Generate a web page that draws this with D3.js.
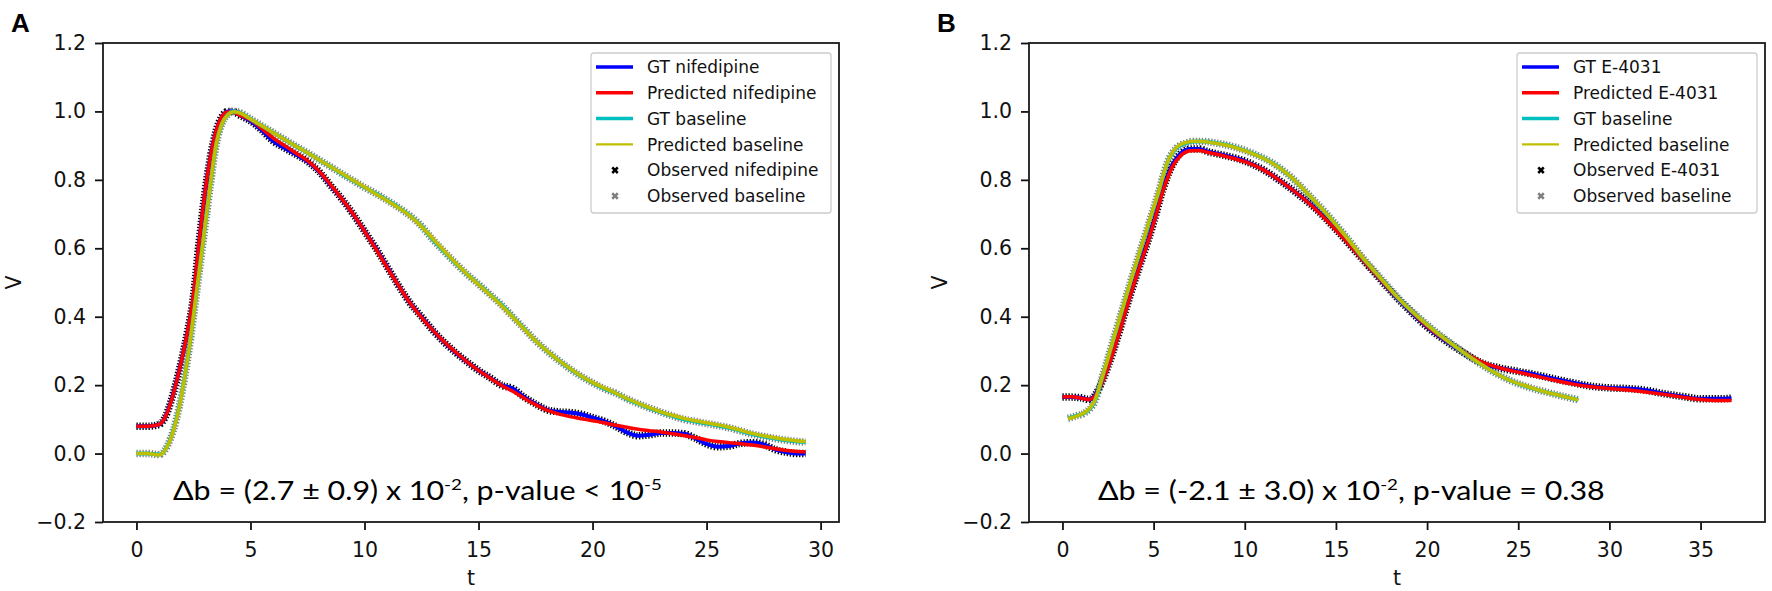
<!DOCTYPE html>
<html>
<head>
<meta charset="utf-8">
<script src="https://cdn.jsdelivr.net/npm/d3@7"></script>
<style>
  body { margin: 0; background: #fff; }
  svg { display: block; }
</style>
</head>
<body>
<div id="plot"></div>
<script>
// ---------- data ----------
// panel A : nifedipine vs baseline
const tA = [0, 0.5, 1,
    1.25, 1.5, 1.75, 2, 2.25, 2.5, 2.75, 3, 3.25, 3.5, 3.75, 4, 4.25, 4.5,
    5, 5.5, 6, 6.5, 7, 7.5, 8, 8.5, 9, 9.5,
    10, 10.5, 11, 11.5, 12, 12.5, 13, 13.5, 14, 14.5,
    15, 15.5, 16, 16.5, 17, 17.5, 18, 18.5, 19, 19.5,
    20, 20.5, 21, 21.5, 22, 22.5, 23, 23.5, 24, 24.5,
    25, 25.5, 26, 26.5, 27, 27.5, 28, 28.5, 29, 29.34];
const nifObsA = [0.08, 0.08, 0.085,
    0.105, 0.15, 0.21, 0.28, 0.36, 0.46, 0.62, 0.76, 0.87, 0.945, 0.985, 1.0, 1.0, 0.99,
    0.972, 0.945, 0.913, 0.893, 0.874, 0.854, 0.825, 0.785, 0.745, 0.70,
    0.65, 0.60, 0.545, 0.49, 0.44, 0.40, 0.36, 0.325, 0.295, 0.268,
    0.243, 0.222, 0.20, 0.19, 0.165, 0.145, 0.128, 0.122, 0.12, 0.115,
    0.105, 0.095, 0.08, 0.062, 0.052, 0.055, 0.06, 0.06, 0.058, 0.045,
    0.028, 0.02, 0.022, 0.03, 0.032, 0.027, 0.012, 0.004, 0.0, 0.0];
const nifPredA = [0.08, 0.08, 0.085,
    0.105, 0.148, 0.208, 0.28, 0.36, 0.465, 0.62, 0.76, 0.87, 0.945, 0.985, 0.998, 0.998, 0.99,
    0.975, 0.95, 0.922, 0.90, 0.878, 0.856, 0.826, 0.787, 0.745, 0.70,
    0.65, 0.598, 0.543, 0.49, 0.44, 0.398, 0.36, 0.326, 0.296, 0.268,
    0.243, 0.221, 0.20, 0.182, 0.162, 0.143, 0.127, 0.116, 0.108, 0.102,
    0.096, 0.09, 0.083, 0.077, 0.071, 0.067, 0.063, 0.058, 0.053, 0.047,
    0.04, 0.035, 0.032, 0.029, 0.025, 0.02, 0.014, 0.009, 0.006, 0.005];
const baseObsA = [0.0, 0.0, -0.003,
    0.01, 0.045, 0.10, 0.18, 0.28, 0.40, 0.53, 0.66, 0.79, 0.905, 0.965, 0.99, 1.0, 0.997,
    0.978, 0.958, 0.938, 0.918, 0.898, 0.879, 0.859, 0.839, 0.818, 0.798,
    0.778, 0.76, 0.74, 0.719, 0.695, 0.665, 0.625, 0.59, 0.556, 0.524,
    0.495, 0.465, 0.435, 0.40, 0.365, 0.33, 0.30, 0.273, 0.248, 0.226,
    0.207, 0.19, 0.177, 0.16, 0.146, 0.133, 0.121, 0.11, 0.10, 0.094,
    0.088, 0.082, 0.075, 0.066, 0.057, 0.05, 0.044, 0.039, 0.035, 0.033];
const basePredA = [0.0, 0.0, -0.004,
    0.01, 0.043, 0.098, 0.178, 0.28, 0.40, 0.53, 0.66, 0.79, 0.905, 0.965, 0.99, 0.999, 0.996,
    0.978, 0.958, 0.938, 0.918, 0.898, 0.879, 0.859, 0.839, 0.819, 0.799,
    0.779, 0.759, 0.739, 0.718, 0.694, 0.664, 0.628, 0.592, 0.557, 0.524,
    0.494, 0.464, 0.433, 0.399, 0.364, 0.33, 0.30, 0.273, 0.249, 0.227,
    0.208, 0.192, 0.177, 0.161, 0.147, 0.134, 0.122, 0.112, 0.103, 0.096,
    0.09, 0.084, 0.077, 0.068, 0.059, 0.052, 0.046, 0.041, 0.037, 0.035];

// panel B : E-4031 vs baseline
const tB = [0, 0.5, 1, 1.5, 2, 2.5, 3, 3.5, 4, 4.5,
    5, 5.5, 6, 6.5, 7, 7.5, 8, 9, 10, 11,
    12, 13, 14, 15, 16, 17, 18, 19, 20, 21,
    22, 23, 24, 25, 26, 27, 28, 29, 30, 31,
    32, 33, 34, 35, 36, 36.7];
const e4031ObsB = [0.165, 0.165, 0.163, 0.158, 0.19, 0.255, 0.335, 0.425, 0.51, 0.59,
    0.675, 0.77, 0.84, 0.878, 0.89, 0.89, 0.882, 0.87, 0.855, 0.83,
    0.795, 0.755, 0.71, 0.655, 0.595, 0.535, 0.475, 0.42, 0.37, 0.33,
    0.295, 0.265, 0.25, 0.24, 0.23, 0.218, 0.207, 0.197, 0.192, 0.19,
    0.185, 0.175, 0.167, 0.16, 0.16, 0.162];
const e4031PredB = [0.165, 0.166, 0.162, 0.158, 0.188, 0.252, 0.332, 0.422, 0.508, 0.588,
    0.672, 0.765, 0.835, 0.872, 0.885, 0.886, 0.88, 0.868, 0.853, 0.83,
    0.795, 0.755, 0.708, 0.653, 0.594, 0.534, 0.476, 0.422, 0.372, 0.332,
    0.297, 0.268, 0.25, 0.238, 0.226, 0.214, 0.203, 0.195, 0.19, 0.186,
    0.18, 0.173, 0.165, 0.158, 0.155, 0.155];
const tBaseB = [0.3, 0.75, 1.25, 1.75, 2.25, 2.75, 3.25, 3.75, 4.25, 4.75,
    5.25, 5.75, 6.25, 6.75, 7.25, 7.75, 8.5, 9.5, 10.5, 11.5,
    12.5, 13.5, 14.5, 15.5, 16.5, 17.5, 18.5, 19.5, 20.5, 21.5,
    22.5, 23.5, 24.5, 25.5, 26.5, 27.5, 28.3];
const baseObsB = [0.103, 0.11, 0.12, 0.15, 0.235, 0.325, 0.415, 0.505, 0.59, 0.675,
    0.76, 0.85, 0.893, 0.907, 0.912, 0.912, 0.907, 0.895, 0.876, 0.85,
    0.81, 0.757, 0.70, 0.638, 0.57, 0.51, 0.45, 0.40, 0.355, 0.315,
    0.277, 0.243, 0.215, 0.195, 0.18, 0.167, 0.157];
const basePredB = [0.102, 0.109, 0.121, 0.152, 0.236, 0.326, 0.416, 0.506, 0.592, 0.677,
    0.762, 0.85, 0.895, 0.909, 0.913, 0.912, 0.906, 0.894, 0.875, 0.849,
    0.81, 0.757, 0.70, 0.638, 0.571, 0.51, 0.45, 0.40, 0.355, 0.315,
    0.277, 0.243, 0.215, 0.196, 0.18, 0.167, 0.157];

// ticks and labels
const xTicksA = [0, 5, 10, 15, 20, 25, 30];
const xTicksB = [0, 5, 10, 15, 20, 25, 30, 35];
const yTicks = [-0.2, 0, 0.2, 0.4, 0.6, 0.8, 1.0, 1.2];
const legendA = ["GT nifedipine", "Predicted nifedipine", "GT baseline",
    "Predicted baseline", "Observed nifedipine", "Observed baseline"];
const legendB = ["GT E-4031", "Predicted E-4031", "GT baseline",
    "Predicted baseline", "Observed E-4031", "Observed baseline"];
const noteA = ["\u0394b = (2.7 \u00b1 0.9) x 10", "-2", ", p-value < 10", "-5"];
const noteB = ["\u0394b = (-2.1 \u00b1 3.0) x 10", "-2", ", p-value = 0.38"];

// ---------- drawing ----------
const svg = d3.select("#plot")
    .append("svg")
    .attr("width", 1772)
    .attr("height", 591);

const tickFont = "'DejaVu Sans', sans-serif";
const plotTop = 43, plotBottom = 522;

function drawPanel(p) {
    const x = d3.scaleLinear().domain(p.xDomain).range([p.left, p.right]);
    const y = d3.scaleLinear().domain([-0.2, 1.2]).range([plotBottom, plotTop]);
    const g = svg.append("g");

    const line = d3.line()
        .x(d => x(d[0]))
        .y(d => y(d[1]))
        .curve(d3.curveMonotoneX);

    // observed samples: dense x-markers, drawn as a dotted wide stroke
    g.append("path")
        .datum(d3.zip(p.t, p.drugObs))
        .attr("d", line)
        .attr("fill", "none")
        .attr("stroke", "#000")
        .attr("stroke-width", 7.5)
        .attr("stroke-dasharray", "1.3,1.7");
    g.append("path")
        .datum(d3.zip(p.tBase, p.baseObs))
        .attr("d", line)
        .attr("fill", "none")
        .attr("stroke", "#808080")
        .attr("stroke-width", 7.5)
        .attr("stroke-dasharray", "1.3,1.7");

    const series = [
        {t: p.t, v: p.drugObs, color: "#0000ff", w: 4},
        {t: p.t, v: p.drugPred, color: "#ff0000", w: 3.5},
        {t: p.tBase, v: p.baseObs, color: "#00bfbf", w: 4},
        {t: p.tBase, v: p.basePred, color: "#bfbf00", w: 3.5}
    ];
    series.forEach(s => {
        g.append("path")
            .datum(d3.zip(s.t, s.v))
            .attr("d", line)
            .attr("fill", "none")
            .attr("stroke", s.color)
            .attr("stroke-width", s.w)
            .attr("stroke-linejoin", "round");
    });

    // axes
    const xAxis = g.append("g")
        .attr("transform", "translate(0," + plotBottom + ")")
        .call(d3.axisBottom(x).tickValues(p.xTicks).tickSize(8).tickPadding(12)
            .tickFormat(d3.format("d")));
    const yAxis = g.append("g")
        .attr("transform", "translate(" + p.left + ",0)")
        .call(d3.axisLeft(y).tickValues(yTicks).tickSize(8).tickPadding(9)
            .tickFormat(d3.format(".1f")));
    [xAxis, yAxis].forEach(a => {
        a.select(".domain").remove();
        a.selectAll(".tick line").attr("stroke", "#111").attr("stroke-width", 1.8);
        a.selectAll(".tick text")
            .attr("fill", "#111")
            .style("font-family", tickFont)
            .style("font-size", "20.5px");
    });

    // frame
    g.append("rect")
        .attr("x", p.left)
        .attr("y", plotTop)
        .attr("width", p.right - p.left)
        .attr("height", plotBottom - plotTop)
        .attr("fill", "none")
        .attr("stroke", "#1a1a1a")
        .attr("stroke-width", 1.8);

    // axis labels
    g.append("text")
        .attr("x", (p.left + p.right) / 2)
        .attr("y", 585)
        .attr("text-anchor", "middle")
        .style("font-family", tickFont)
        .style("font-size", "20.5px")
        .attr("fill", "#111")
        .text("t");
    g.append("text")
        .attr("transform", "translate(" + (p.left - 82) + "," + ((plotTop + plotBottom) / 2) + ") rotate(-90)")
        .attr("text-anchor", "middle")
        .style("font-family", tickFont)
        .style("font-size", "20.5px")
        .attr("fill", "#111")
        .text("V");

    // panel letter
    g.append("text")
        .attr("x", p.left - 92)
        .attr("y", 32)
        .style("font-family", "'Liberation Sans', Arial, sans-serif")
        .style("font-weight", "bold")
        .style("font-size", "26px")
        .attr("fill", "#000")
        .text(p.letter);

    // legend
    const lx = p.right - 248, ly = 53;
    const leg = g.append("g");
    leg.append("rect")
        .attr("x", lx).attr("y", ly)
        .attr("width", 240).attr("height", 160)
        .attr("rx", 3)
        .attr("fill", "#fff").attr("fill-opacity", 0.8)
        .attr("stroke", "#cccccc").attr("stroke-width", 1.3);
    const legStyle = [
        {color: "#0000ff", w: 3.5},
        {color: "#ff0000", w: 3.5},
        {color: "#00bfbf", w: 3.5},
        {color: "#bfbf00", w: 2.2},
        {color: "#000", marker: true},
        {color: "#808080", marker: true}
    ];
    p.legend.forEach((label, i) => {
        const cy = ly + 14 + i * 25.8;
        const st = legStyle[i];
        if (st.marker) {
            leg.append("path")
                .attr("d", d3.symbol().type(d3.symbolCross).size(34)())
                .attr("transform", "translate(" + (lx + 24) + "," + cy + ") rotate(45)")
                .attr("fill", st.color);
        } else {
            leg.append("line")
                .attr("x1", lx + 5).attr("x2", lx + 42)
                .attr("y1", cy).attr("y2", cy)
                .attr("stroke", st.color)
                .attr("stroke-width", st.w);
        }
        leg.append("text")
            .attr("x", lx + 56)
            .attr("y", cy)
            .attr("dy", "0.36em")
            .style("font-family", tickFont)
            .style("font-size", "17px")
            .attr("fill", "#111")
            .text(label);
    });

    // annotation, stretched to the width it has in the figure
    const note = g.append("text")
        .attr("x", p.noteX)
        .attr("y", 500)
        .style("font-family", "Lato, 'Open Sans', sans-serif")
        .style("font-size", "26px")
        .attr("fill", "#000");
    p.note.forEach((part, i) => {
        const sup = i % 2 === 1;
        note.append("tspan")
            .attr("dy", sup ? -10 : (i > 0 ? 10 : 0))
            .style("font-size", sup ? "16px" : "26px")
            .text(part);
    });
    const w = note.node().getBBox().width;
    note.attr("transform", "translate(" + p.noteX + ",0) scale(" + (p.noteW / w) + ",1) translate(" + (-p.noteX) + ",0)");
}

drawPanel({
    letter: "A",
    left: 103, right: 839,
    xDomain: [-1.467, 30.807],
    xTicks: xTicksA,
    t: tA, drugObs: nifObsA, drugPred: nifPredA,
    tBase: tA, baseObs: baseObsA, basePred: basePredA,
    legend: legendA,
    note: noteA, noteX: 173, noteW: 489
});

drawPanel({
    letter: "B",
    left: 1029, right: 1765,
    xDomain: [-1.835, 38.535],
    xTicks: xTicksB,
    t: tB, drugObs: e4031ObsB, drugPred: e4031PredB,
    tBase: tBaseB, baseObs: baseObsB, basePred: basePredB,
    legend: legendB,
    note: noteB, noteX: 1098, noteW: 507
});
</script>
</body>
</html>
